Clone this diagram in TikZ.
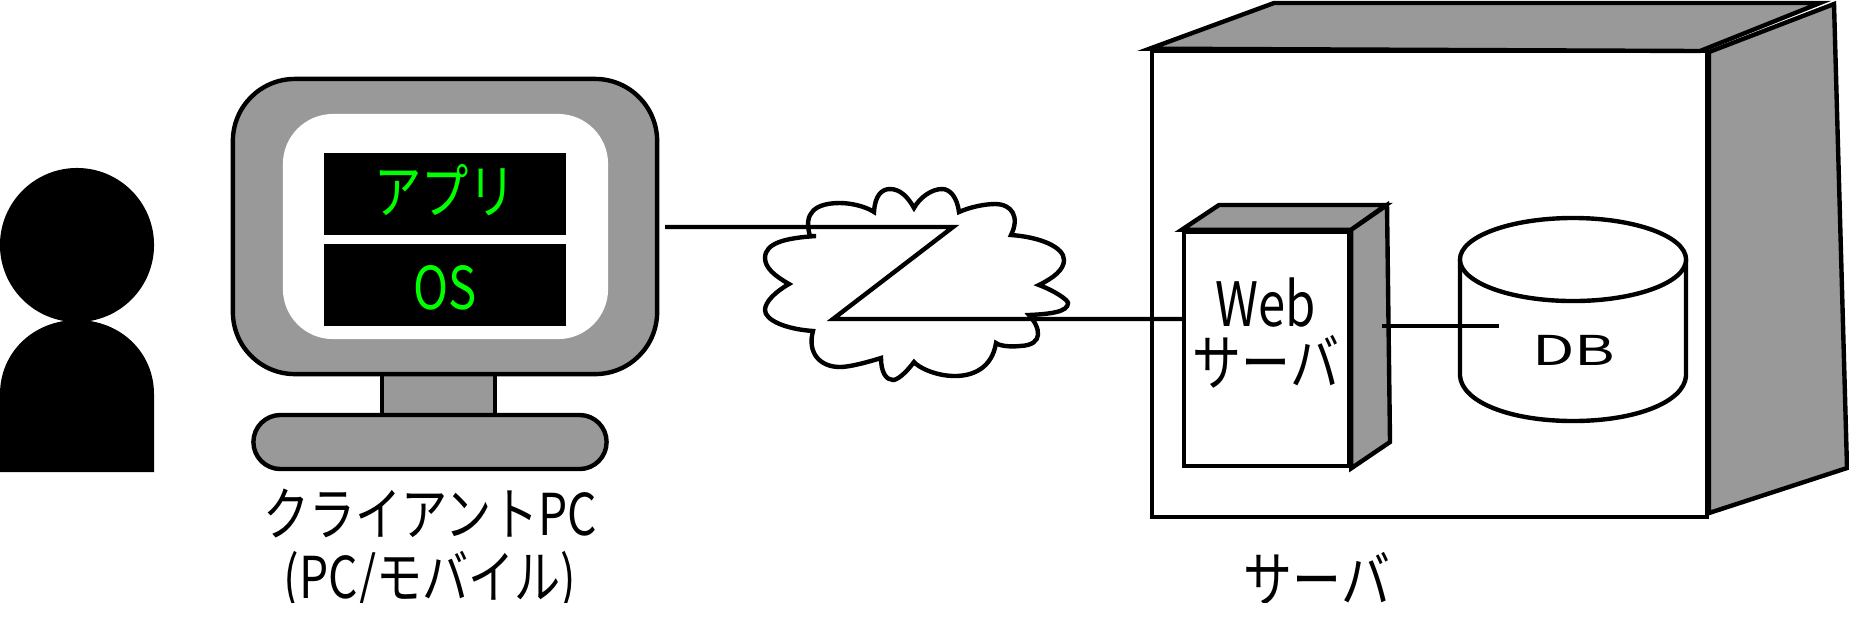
\documentclass[tikz,border=0pt]{standalone}
\usepackage{fontspec}
\usetikzlibrary{shapes.geometric}
\newfontfamily\jpfont[FakeStretch=0.8]{Noto Sans CJK JP}
\newfontfamily\dbfont[FakeStretch=1.5]{Noto Sans CJK JP}
\begin{document}
\begin{tikzpicture}[x=0.01cm, y=-0.01cm, line width=1.25pt, line join=miter,
    face/.style = {draw, fill=black!40},
    panel/.style = {shape=rectangle, inner sep=0pt},
    screenbar/.style = {panel, fill=black, minimum width=2.42cm, minimum height=0.82cm},
    barlabel/.style = {inner sep=0pt, text=green, font=\jpfont\fontsize{16.8}{18}\selectfont},
    caption/.style = {align=center, inner sep=0pt, font=\jpfont\fontsize{16.4}{17.9}\selectfont},
    largecaption/.style = {caption, font=\jpfont\fontsize{17.4}{16.8}\selectfont}]
    \useasboundingbox (0,0) rectangle (1849,617);

    \node[shape=circle, fill=black, inner sep=0pt, minimum size=1.54cm] (head) at (77,245) {};
    \fill (0,472) -- (0,394) .. controls (0,352) and (34,320) .. (77,320)
      .. controls (120,320) and (154,352) .. (154,394) -- (154,472) -- cycle;

    \node[panel, face, minimum width=1.13cm, minimum height=0.44cm] (stand) at (438.5,394) {};
    \node[panel, face, rounded corners=0.62cm, minimum width=4.24cm, minimum height=2.95cm] (monitor) at (445,226.5) {};
    \node[panel, fill=white, rounded corners=0.5cm, minimum width=3.25cm, minimum height=2.25cm] (screen) at (445.5,226.5) {};
    \node[screenbar] (app) at (445,194) {};
    \node[screenbar] (os) at (445,285) {};
    \node[barlabel] (applabel) at (445,190) {アプリ};
    \node[barlabel] (oslabel) at (445,288) {OS};
    \node[panel, face, rounded corners=0.27cm, minimum width=3.53cm, minimum height=0.54cm] (base) at (430,442) {};

    \draw (810,236) .. controls (803,213) and (815,203) .. (840,203)
      .. controls (850,203) and (865,206) .. (874,212)
      .. controls (875,195) and (882,189) .. (890,189)
      .. controls (900,189) and (908,197) .. (914,208)
      .. controls (920,197) and (932,189) .. (942,189)
      .. controls (950,189) and (957,197) .. (959,212)
      .. controls (970,207) and (985,204) .. (995,204)
      .. controls (1012,204) and (1020,217) .. (1011,235)
      .. controls (1040,237) and (1064,247) .. (1064,260)
      .. controls (1064,270) and (1053,278) .. (1039,285)
      .. controls (1055,291) and (1068,300) .. (1068,303)
      .. controls (1068,312) and (1050,314) .. (1029,315)
      .. controls (1040,327) and (1045,345) .. (1020,346)
      .. controls (1010,347) and (1000,346) .. (996,343)
      .. controls (992,368) and (973,376) .. (955,376)
      .. controls (935,376) and (918,367) .. (914,362)
      .. controls (905,374) and (897,380) .. (893,380)
      .. controls (886,380) and (881,372) .. (881,358)
      .. controls (868,362) and (850,367) .. (840,367)
      .. controls (820,367) and (807,353) .. (813,331)
      .. controls (785,329) and (765,320) .. (765,310)
      .. controls (765,302) and (775,292) .. (789,284)
      .. controls (775,276) and (765,268) .. (765,258)
      .. controls (765,243) and (785,238) .. (816,236) -- cycle;

    \node[panel, draw, fill=white, minimum width=5.55cm, minimum height=4.66cm] (server) at (1429.5,284) {};
    \draw[face] (server.north west) -- (1274,3) -- (1820,3) -- (1700,51) -- cycle;
    \draw[face] (1709,52) -- (1834,4) -- (1847,468) -- (1709,513) -- cycle;

    \node[panel, draw, fill=white, minimum width=1.65cm, minimum height=2.34cm] (webbox) at (1266.5,349) {};
    \draw[face] (webbox.north west) -- (1219,205) -- (1386,205) -- (webbox.north east) -- cycle;
    \draw[face] (webbox.north east) -- (1387,205) -- (1390,442) -- (webbox.south east) -- cycle;
    \node[largecaption] (weblabel) at (1266,333) {Web\\サーバ};

    \draw (1460,260) -- (1460,376) .. controls (1462,402) and (1510,421) .. (1573,421)
      .. controls (1636,421) and (1684,402) .. (1686,376) -- (1686,260);
    \node[shape=ellipse, draw, fill=white, inner sep=0pt, minimum width=2.26cm, minimum height=0.83cm] (dbtop) at (1573,259.5) {};
    \node[font=\dbfont\fontsize{11.7}{12}\selectfont, inner sep=0pt] (dblabel) at (1574,350) {DB};

    \coordinate (pcport) at (665,227);
    \coordinate (nettop) at (953,227);
    \coordinate (netlow) at (833,319);
    \coordinate (webin) at (1382,326);
    \coordinate (dbin) at (1499,326);
    \draw (pcport) -- (nettop) -- (netlow) -- (webbox.west |- netlow);
    \draw (webin) -- (dbin);

    \begin{scope}
      \clip (0,0) rectangle (1849,602);
      \node[caption] (clientlabel) at (430,549) {クライアントPC\\(PC/モバイル)};
      \node[largecaption] (serverlabel) at (1317,579) {サーバ};
    \end{scope}
  \end{tikzpicture}
\end{document}
